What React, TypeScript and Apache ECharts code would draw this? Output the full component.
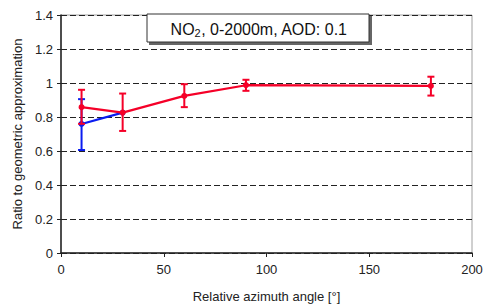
import React, { useEffect, useRef } from "react";
import * as echarts from "echarts";

const angles = [10, 30, 60, 90, 180];
const redMean = [0.858, 0.826, 0.924, 0.987, 0.983];
const redLow = [0.76, 0.718, 0.858, 0.954, 0.926];
const redHigh = [0.96, 0.938, 0.993, 1.019, 1.037];

const blueAngles = [10, 30];
const blueMean = [0.759, 0.826];
const blueLow = [0.606, 0.826];
const blueHigh = [0.905, 0.826];

const xTicks = [0, 50, 100, 150, 200];
const yTicks = [0, 0.2, 0.4, 0.6, 0.8, 1, 1.2, 1.4];

const RED = "#f50028";
const BLUE = "#0a1cf0";
const FONT = "'Liberation Sans', Arial, sans-serif";

function errRender(color: string) {
  return (params: any, api: any) => {
    const x = api.value(0);
    const lo = api.coord([x, api.value(1)]);
    const hi = api.coord([x, api.value(2)]);
    if (Math.abs(lo[1] - hi[1]) < 0.5) return null;
    const w = 3.5;
    const style = { stroke: color, lineWidth: 2 };
    return {
      type: "group",
      children: [
        { type: "line", shape: { x1: lo[0], y1: lo[1], x2: hi[0], y2: hi[1] }, style },
        { type: "line", shape: { x1: lo[0] - w, y1: lo[1], x2: lo[0] + w, y2: lo[1] }, style },
        { type: "line", shape: { x1: hi[0] - w, y1: hi[1], x2: hi[0] + w, y2: hi[1] }, style },
      ],
    };
  };
}

export default function App() {
  const ref = useRef<HTMLDivElement>(null);
  useEffect(() => {
    const chart = echarts.init(ref.current!, null, { renderer: "svg" });
    const redPts = angles.map((a, i) => [a, redMean[i]]);
    const redErr = angles.map((a, i) => [a, redLow[i], redHigh[i]]);
    const bluePts = blueAngles.map((a, i) => [a, blueMean[i]]);
    const blueErr = blueAngles.map((a, i) => [a, blueLow[i], blueHigh[i]]);
    chart.setOption({
      animation: false,
      backgroundColor: "#ffffff",
      grid: {
        left: 61,
        right: 15,
        top: 15,
        bottom: 55,
        show: true,
        borderColor: "#a0a0a0",
        borderWidth: 1,
      },
      xAxis: {
        type: "value",
        min: xTicks[0],
        max: xTicks[xTicks.length - 1],
        interval: 50,
        name: "Relative azimuth angle [°]",
        nameLocation: "middle",
        nameGap: 37,
        nameTextStyle: { fontFamily: FONT, fontSize: 13, color: "#222" },
        axisLine: { show: true, lineStyle: { color: "#222", width: 1.5 } },
        axisTick: { show: true, length: 4, lineStyle: { color: "#222" } },
        axisLabel: { fontFamily: FONT, fontSize: 13, color: "#222", margin: 10 },
        splitLine: { show: false },
      },
      yAxis: {
        type: "value",
        min: yTicks[0],
        max: yTicks[yTicks.length - 1],
        interval: 0.2,
        name: "Ratio to geometric approximation",
        nameLocation: "middle",
        nameGap: 37,
        nameTextStyle: { fontFamily: FONT, fontSize: 13, color: "#222" },
        axisLine: { show: true, lineStyle: { color: "#222", width: 1.5 } },
        axisTick: { show: true, length: 4, lineStyle: { color: "#222" } },
        axisLabel: {
          fontFamily: FONT,
          fontSize: 13,
          color: "#222",
          margin: 8,
          formatter: (v: number) => String(Math.round(v * 10) / 10),
        },
        splitLine: {
          show: true,
          lineStyle: { color: "#222", type: [6, 3], width: 1 },
        },
      },
      graphic: [
        {
          type: "rect",
          shape: { x: 149, y: 16, width: 223, height: 29 },
          style: { fill: "#666" },
          z: 10,
        },
        {
          type: "rect",
          shape: { x: 147, y: 14, width: 222, height: 28 },
          style: { fill: "#fff", stroke: "#333", lineWidth: 1 },
          z: 11,
        },
        {
          type: "text",
          x: 259,
          y: 29,
          z: 12,
          style: {
            text: "{a|NO}{s|2}{a|, 0-2000m, AOD: 0.1}",
            align: "center",
            verticalAlign: "middle",
            rich: {
              a: { fontFamily: FONT, fontSize: 16, fill: "#111" },
              s: { fontFamily: FONT, fontSize: 11, fill: "#111", padding: [8, 0, 0, 0] },
            },
          },
        },
      ],
      series: [
        {
          type: "line",
          data: bluePts,
          symbol: "circle",
          symbolSize: 6,
          lineStyle: { color: BLUE, width: 2.2 },
          itemStyle: { color: BLUE },
          z: 2,
        },
        {
          type: "custom",
          data: blueErr,
          renderItem: errRender(BLUE),
          z: 3,
        },
        {
          type: "line",
          data: redPts,
          symbol: "circle",
          symbolSize: 6,
          lineStyle: { color: RED, width: 2.2 },
          itemStyle: { color: RED },
          z: 4,
        },
        {
          type: "custom",
          data: redErr,
          renderItem: errRender(RED),
          z: 5,
        },
      ],
    });
    return () => chart.dispose();
  }, []);
  return <div ref={ref} style={{ width: 487, height: 308, position: "absolute", left: 0, top: 0 }} />;
}
